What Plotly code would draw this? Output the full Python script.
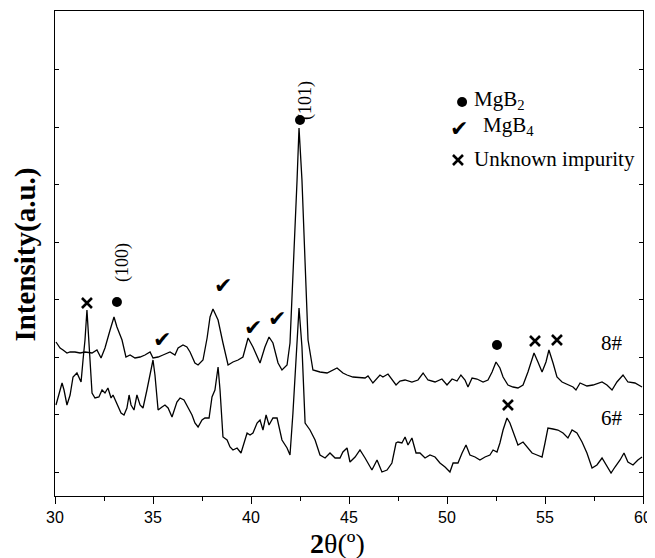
import plotly.graph_objects as go

# ---- data (2theta in degrees, intensity in a.u.) ----
tt_8 = [30.05, 30.26, 30.41, 30.61, 30.77, 31.02, 31.28, 31.53, 31.89, 32.14, 32.35, 32.55, 32.81, 33.01,
        33.16, 33.42, 33.62, 33.83, 34.08, 34.34, 34.59, 34.85, 35.00, 35.26, 35.51, 35.87, 36.12, 36.28,
        36.53, 36.73, 36.89, 37.14, 37.30, 37.55, 37.76, 37.91, 38.06, 38.32, 38.57, 38.83, 39.08, 39.34,
        39.59, 39.85, 40.10, 40.46, 40.71, 40.92, 41.12, 41.38, 41.58, 41.84, 41.99, 42.14, 42.35, 42.45,
        42.60, 42.76, 42.91, 43.16, 43.52, 43.88, 44.18, 44.39, 44.69, 44.90, 45.20, 45.56, 45.82, 45.97,
        46.22, 46.58, 46.73, 46.99, 47.19, 47.40, 47.60, 47.86, 48.21, 48.52, 48.78, 49.03, 49.39, 49.74,
        50.00, 50.26, 50.51, 50.71, 50.92, 51.07, 51.28, 51.53, 51.84, 52.09, 52.30, 52.50, 52.70, 52.86,
        53.11, 53.37, 53.62, 53.88, 54.13, 54.34, 54.44, 54.64, 54.85, 55.05, 55.20, 55.41, 55.61, 55.87,
        56.12, 56.43, 56.58, 56.79, 57.14, 57.45, 57.91, 58.16, 58.42, 58.67, 58.98, 59.23, 59.59, 59.95]
int_8 = [154, 148, 146, 143, 144, 144, 143, 144, 143, 146, 138, 148, 166, 179,
         169, 156, 139, 141, 138, 139, 141, 144, 138, 139, 141, 144, 141, 148,
         151, 149, 144, 133, 131, 136, 158, 179, 187, 176, 153, 131, 134, 136,
         139, 158, 149, 133, 149, 159, 153, 133, 126, 131, 153, 216, 316, 368,
         316, 233, 156, 126, 124, 123, 126, 128, 123, 121, 119, 118, 118, 120,
         113, 121, 119, 122, 116, 111, 115, 116, 114, 116, 123, 116, 114, 117,
         111, 117, 115, 121, 116, 109, 118, 117, 114, 116, 124, 134, 128, 119,
         111, 109, 108, 111, 124, 138, 143, 134, 124, 134, 146, 133, 119, 114,
         112, 109, 106, 113, 110, 111, 114, 111, 106, 114, 121, 114, 113, 109]

tt_6 = [30.05, 30.20, 30.36, 30.46, 30.61, 30.77, 30.92, 31.12, 31.22, 31.33, 31.43, 31.53, 31.63, 31.73,
        31.89, 32.04, 32.24, 32.40, 32.55, 32.70, 32.86, 32.96, 33.16, 33.37, 33.52, 33.67, 33.78, 33.88,
        34.03, 34.18, 34.34, 34.49, 34.69, 34.85, 35.00, 35.10, 35.26, 35.46, 35.61, 35.77, 35.97, 36.22,
        36.38, 36.58, 36.79, 36.99, 37.14, 37.30, 37.50, 37.65, 37.86, 38.01, 38.16, 38.32, 38.42, 38.57,
        38.78, 38.93, 39.08, 39.29, 39.49, 39.59, 39.80, 39.95, 40.10, 40.31, 40.46, 40.61, 40.77, 40.92,
        41.12, 41.33, 41.58, 41.84, 41.99, 42.14, 42.35, 42.45, 42.60, 42.76, 43.01, 43.27, 43.52, 43.78,
        44.03, 44.29, 44.54, 44.69, 44.90, 45.05, 45.31, 45.56, 45.82, 45.97, 46.17, 46.43, 46.68, 46.94,
        47.19, 47.40, 47.50, 47.70, 47.86, 48.01, 48.21, 48.42, 48.62, 48.88, 49.13, 49.39, 49.64, 49.90,
        50.15, 50.31, 50.56, 50.77, 50.97, 51.17, 51.43, 51.68, 51.94, 52.19, 52.35, 52.55, 52.70, 52.86,
        53.06, 53.21, 53.37, 53.62, 53.88, 54.08, 54.34, 54.59, 54.85, 55.00, 55.15, 55.41, 55.66, 55.92,
        56.17, 56.38, 56.63, 56.89, 57.14, 57.40, 57.65, 57.91, 58.16, 58.37, 58.57, 58.83, 59.03, 59.23,
        59.49, 59.74, 59.95]
int_6 = [91, 101, 113, 106, 91, 101, 119, 123, 119, 114, 136, 156, 186, 151,
         103, 98, 99, 106, 103, 108, 98, 101, 93, 83, 81, 88, 101, 91,
         86, 101, 91, 88, 106, 121, 136, 121, 86, 89, 91, 88, 79, 94,
         98, 96, 89, 81, 73, 69, 76, 78, 78, 99, 106, 129, 106, 59,
         56, 49, 46, 48, 43, 49, 63, 61, 63, 73, 76, 66, 81, 71,
         78, 78, 56, 48, 41, 83, 149, 188, 149, 73, 66, 56, 41, 38,
         43, 38, 38, 44, 48, 34, 39, 46, 38, 33, 26, 36, 24, 26,
         33, 53, 54, 53, 59, 51, 58, 43, 43, 38, 41, 39, 33, 29,
         24, 33, 33, 43, 51, 41, 39, 36, 39, 41, 46, 44, 53, 66,
         78, 73, 64, 51, 54, 49, 43, 41, 39, 53, 68, 67, 66, 63,
         58, 66, 63, 54, 43, 28, 31, 38, 29, 23, 29, 36, 43, 34,
         31, 36, 39]

# peak markers
mgb2_x = [33.16, 42.50, 52.55]
mgb2_y = [194, 376, 151]
imp_x = [31.63, 54.49, 55.61, 53.11]
imp_y = [193, 155, 156, 91]
mgb4_x = [35.46, 38.57, 40.10, 41.33]
mgb4_y = [157, 211, 169, 178]

# hkl labels
hkl_text = ["(100)", "(101)"]
hkl_x = [33.42, 42.76]
hkl_y = [233, 395]

# sample labels
sample_text = ["8#", "6#"]
sample_x = [58.40, 58.40]
sample_y = [153, 78]

# legend entries
leg_sym_x = [50.77, 50.61, 50.56]
leg_sym_y = [394, 368, 336]
leg_text = ["MgB<sub>2</sub>", "MgB<sub>4</sub>", "Unknown impurity"]
leg_text_x = [51.30, 51.72, 51.30]
leg_text_y = [396, 370, 337]

x_title = "<b>2</b>θ(º)"
y_title = "<b>Intensity(a.u.)</b>"

serif = "Liberation Serif, Times New Roman, serif"
sans = "Liberation Sans, Arial, sans-serif"

fig = go.Figure()
fig.add_trace(go.Scatter(x=tt_8, y=int_8, mode="lines", line=dict(color="black", width=1.3),
                         hoverinfo="skip", showlegend=False))
fig.add_trace(go.Scatter(x=tt_6, y=int_6, mode="lines", line=dict(color="black", width=1.3),
                         hoverinfo="skip", showlegend=False))
fig.add_trace(go.Scatter(x=mgb2_x + leg_sym_x[:1], y=mgb2_y + leg_sym_y[:1], mode="markers",
                         marker=dict(symbol="circle", size=10, color="black"), showlegend=False))
fig.add_trace(go.Scatter(x=imp_x + leg_sym_x[2:], y=imp_y + leg_sym_y[2:], mode="markers",
                         marker=dict(symbol="x-thin", size=10, line=dict(color="black", width=2.6)),
                         showlegend=False))

for xx, yy in zip(mgb4_x + leg_sym_x[1:2], mgb4_y + leg_sym_y[1:2]):
    fig.add_annotation(x=xx, y=yy, text="✔", showarrow=False,
                       font=dict(family="DejaVu Sans", size=22, color="black"))

for t, xx, yy in zip(hkl_text, hkl_x, hkl_y):
    fig.add_annotation(x=xx, y=yy, text=t, showarrow=False, textangle=-90,
                       font=dict(family=serif, size=18, color="black"))

for t, xx, yy in zip(sample_text, sample_x, sample_y):
    fig.add_annotation(x=xx, y=yy, text=t, showarrow=False,
                       font=dict(family=serif, size=21, color="black"))

for t, xx, yy in zip(leg_text, leg_text_x, leg_text_y):
    fig.add_annotation(x=xx, y=yy, text=t, showarrow=False, xanchor="left",
                       font=dict(family=serif, size=21, color="black"))

# axis titles
fig.add_annotation(xref="paper", yref="paper", x=0.481, y=-0.097, text=x_title, showarrow=False,
                   xanchor="center", yanchor="middle",
                   font=dict(family=serif, size=28, color="black"))
fig.add_annotation(xref="paper", yref="paper", x=-0.05, y=0.497, text=y_title, showarrow=False,
                   textangle=-90, xanchor="center", yanchor="middle",
                   font=dict(family=serif, size=29, color="black"))

# the page body adds an 8 px offset, so the figure is sized to fit the window exactly
fig.update_layout(
    width=647, height=550,
    margin=dict(l=47, r=12, t=3, b=62, autoexpand=False),
    paper_bgcolor="white", plot_bgcolor="white",
    xaxis=dict(range=[30, 60], tick0=30, dtick=5, ticks="outside", ticklen=7, tickwidth=1,
               tickcolor="black", showline=True, linecolor="black", linewidth=1, mirror=True,
               showgrid=False, zeroline=False, automargin=False,
               minor=dict(dtick=2.5, ticks="outside", ticklen=4, tickcolor="black"),
               tickfont=dict(family=sans, size=16, color="black")),
    yaxis=dict(range=[0, 485], tick0=24, dtick=57.5, ticks="inside", ticklen=4, tickcolor="black",
               showline=True, linecolor="black", linewidth=1, mirror="ticks",
               showgrid=False, zeroline=False, showticklabels=False, automargin=False),
)

fig.write_html("out.html")
